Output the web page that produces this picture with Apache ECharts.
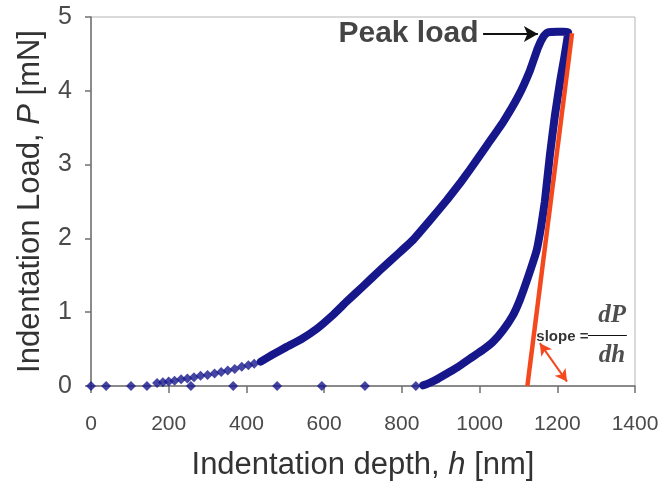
<!DOCTYPE html>
<html>
<head>
<meta charset="utf-8">
<script src="https://cdn.jsdelivr.net/npm/echarts@6/dist/echarts.min.js"></script>
<style>
  html, body { margin: 0; padding: 0; background: #fff; }
  #chart { width: 666px; height: 491px; }
</style>
</head>
<body>
<div id="chart"></div>
<script>
// axis ranges
const depthMin = 0, depthMax = 1400, depthStep = 200;
const loadMin = 0, loadMax = 5, loadStep = 1;

// early, separate diamonds of the loading branch plus stray points on the zero line
const sparseDepth = [0, 39, 103, 144, 170, 185, 200, 215, 232, 248, 257, 265, 282, 300, 318, 335, 352, 366, 370, 388, 405, 420, 479, 594, 705, 836];
const sparseLoad  = [0, 0, 0, 0, 0.04, 0.05, 0.06, 0.07, 0.09, 0.1, 0, 0.12, 0.14, 0.15, 0.17, 0.19, 0.21, 0, 0.23, 0.26, 0.28, 0.3, 0, 0, 0, 0];

// continuous loading branch, hold at peak, then unloading branch
const curveDepth = [437, 469, 500, 540, 580, 620, 659, 700, 744, 790, 829, 870, 916, 950, 975, 1020, 1061, 1100, 1130, 1150, 1165, 1175, 1200, 1228,
                    1218, 1207, 1194, 1181, 1168, 1158, 1147, 1125, 1104, 1085, 1061, 1035, 1009, 975, 945, 916, 890, 870, 855];
const curveLoad  = [0.33, 0.43, 0.52, 0.63, 0.77, 0.95, 1.15, 1.35, 1.57, 1.79, 1.98, 2.23, 2.52, 2.75, 2.93, 3.27, 3.58, 3.93, 4.28, 4.58, 4.74, 4.79, 4.8, 4.79,
                    4.45, 4.12, 3.67, 3.13, 2.5, 2.15, 1.84, 1.48, 1.17, 0.95, 0.76, 0.6, 0.49, 0.37, 0.26, 0.17, 0.09, 0.04, 0.01];

// unloading slope line (start, end)
const slopeDepth = [1123, 1238];
const slopeLoad  = [0, 4.78];

// annotations (data coords)
const peakArrow  = [[1009, 4.77], [1150, 4.77]];
const angleArrow = [[1155, 0.58], [1225, 0.06]];
const fracBar    = [[1279, 0.69], [1379, 0.69]];
const peakLabelAt  = [1005, 4.77];
const slopeLabelAt = [1146, 0.67];
const dPAt = [1341, 0.96];
const dhAt = [1341, 0.41];

const navy = '#17178c';
const red = '#f4481e';

const zip = (xs, ys) => xs.map((x, i) => [x, ys[i]]);

const chart = echarts.init(document.getElementById('chart'), null, { renderer: 'canvas' });

const option = {
  animation: false,
  backgroundColor: '#fff',
  grid: {
    left: 91, right: 31, top: 17, bottom: 105,
    show: true, borderColor: '#b5b5b5', borderWidth: 1,
    outerBoundsMode: 'none'
  },
  xAxis: {
    type: 'value',
    min: depthMin, max: depthMax, interval: depthStep,
    name: 'Indentation depth, {i|h} [nm]',
    nameLocation: 'middle',
    nameGap: 64,
    nameTextStyle: {
      fontFamily: 'Liberation Sans', fontSize: 31, color: '#333',
      rich: { i: { fontFamily: 'Liberation Sans', fontStyle: 'italic', fontSize: 31, color: '#333' } }
    },
    axisLine: { show: true, lineStyle: { color: '#707070', width: 1.5 } },
    axisTick: { show: true, inside: false, length: 7, lineStyle: { color: '#707070', width: 1.5 } },
    axisLabel: {
      margin: 28, fontFamily: 'Liberation Sans', fontSize: 21, color: '#4a4a4a',
      formatter: v => String(v)
    },
    splitLine: { show: false }
  },
  yAxis: {
    type: 'value',
    min: loadMin, max: loadMax, interval: loadStep,
    name: 'Indentation Load, {i|P} [mN]',
    nameLocation: 'middle',
    nameRotate: 90,
    nameGap: 45,
    nameTextStyle: {
      fontFamily: 'Liberation Sans', fontSize: 31, color: '#333',
      rich: { i: { fontFamily: 'Liberation Sans', fontStyle: 'italic', fontSize: 31, color: '#333' } }
    },
    axisLine: { show: true, lineStyle: { color: '#707070', width: 1.5 } },
    axisTick: { show: true, inside: false, length: 6, lineStyle: { color: '#707070', width: 1.5 } },
    axisLabel: { margin: 19, fontFamily: 'Liberation Sans', fontSize: 25, color: '#4a4a4a' },
    splitLine: { show: false }
  },
  series: [
    {
      name: 'sparse',
      type: 'scatter',
      symbol: 'diamond',
      symbolSize: 10,
      itemStyle: { color: navy },
      data: zip(sparseDepth, sparseLoad),
      silent: true,
      z: 3
    },
    {
      name: 'curve',
      type: 'line',
      showSymbol: false,
      smooth: 0.1,
      lineStyle: { color: navy, width: 8, cap: 'round', join: 'round' },
      data: zip(curveDepth, curveLoad),
      silent: true,
      z: 3
    },
    {
      name: 'slope',
      type: 'line',
      showSymbol: false,
      lineStyle: { color: red, width: 4.5 },
      data: zip(slopeDepth, slopeLoad),
      silent: true,
      z: 4
    },
    {
      name: 'annotations',
      type: 'line',
      data: [],
      silent: true,
      z: 5,
      markLine: {
        silent: true,
        animation: false,
        label: { show: false },
        emphasis: { disabled: true },
        lineStyle: { type: 'solid' },
        data: [
          [
            { coord: peakArrow[0], symbol: 'none', lineStyle: { color: '#111', width: 2, type: 'solid' } },
            { coord: peakArrow[1], symbol: 'arrow', symbolSize: [12, 14] }
          ],
          [
            { coord: angleArrow[0], symbol: 'arrow', symbolSize: [10, 12], lineStyle: { color: red, width: 2, type: 'solid', curveness: 0.15 } },
            { coord: angleArrow[1], symbol: 'arrow', symbolSize: [10, 12] }
          ],
          [
            { coord: fracBar[0], symbol: 'none', lineStyle: { color: '#111', width: 1.2, type: 'solid' } },
            { coord: fracBar[1], symbol: 'none' }
          ]
        ]
      }
    },
    {
      name: 'labels',
      type: 'scatter',
      symbolSize: 0,
      silent: true,
      z: 6,
      data: [
        { value: peakLabelAt, label: { show: true, position: 'left', distance: 3, formatter: 'Peak load',
            fontFamily: 'Liberation Sans', fontSize: 30, fontWeight: 'bold', color: '#151515' } },
        { value: slopeLabelAt, label: { show: true, position: 'right', distance: 0, formatter: 'slope =',
            fontFamily: 'Liberation Sans', fontSize: 15, fontWeight: 'bold', color: '#000' } },
        { value: dPAt, label: { show: true, position: 'inside', formatter: 'dP',
            fontFamily: 'Liberation Serif', fontSize: 25, fontStyle: 'italic', fontWeight: 'bold', color: '#222' } },
        { value: dhAt, label: { show: true, position: 'inside', formatter: 'dh',
            fontFamily: 'Liberation Serif', fontSize: 25, fontStyle: 'italic', fontWeight: 'bold', color: '#222' } }
      ]
    }
  ]
};

chart.setOption(option);
</script>
</body>
</html>
